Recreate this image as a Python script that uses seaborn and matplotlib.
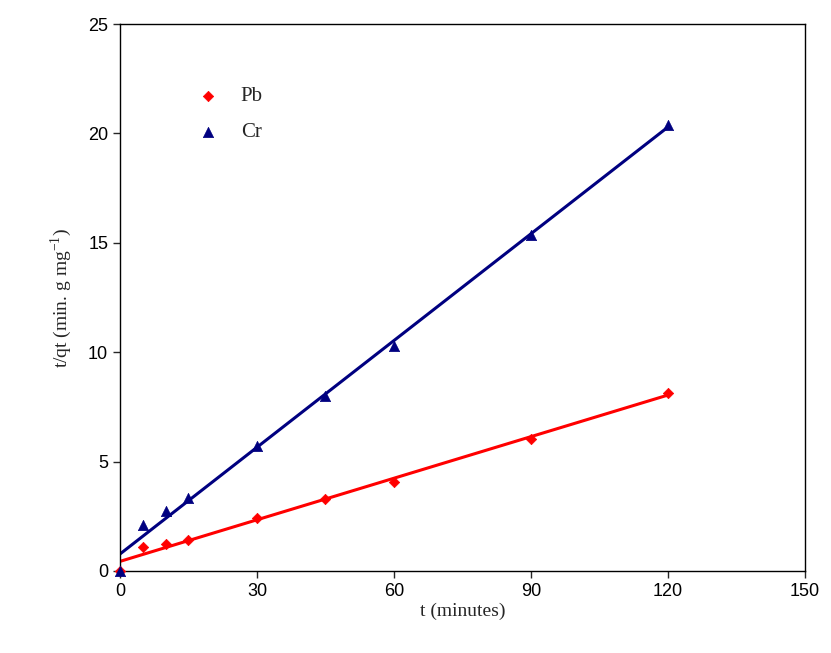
import numpy as np
import pandas as pd
import matplotlib
matplotlib.use("Agg")
import matplotlib.pyplot as plt
import seaborn as sns

# ─── Data ─────────────────────────────────────────────────────────────────────
t_min = [0, 5, 10, 15, 30, 45, 60, 90, 120]
pb_tqt = [0.0, 1.1, 1.25, 1.4, 2.4, 3.3, 4.05, 6.05, 8.15]
cr_tqt = [0.0, 2.1, 2.75, 3.35, 5.7, 8.0, 10.3, 15.35, 20.4]

sns.set_style("white")
plt.rcParams["font.family"] = ["Liberation Serif", "DejaVu Serif"]

df = pd.DataFrame({
    "t": t_min * 2,
    "tqt": pb_tqt + cr_tqt,
    "metal": ["Pb"] * len(t_min) + ["Cr"] * len(t_min),
})

fig = plt.figure(figsize=(8.31, 6.53), dpi=100)
ax = fig.add_axes([0.1444, 0.1256, 0.824, 0.8376])

palette = {"Pb": "#ff0000", "Cr": "#000080"}
markers = {"Pb": "D", "Cr": "^"}
sizes = {"Pb": 28, "Cr": 55}

# fitted lines
for metal in ["Pb", "Cr"]:
    sub = df[df.metal == metal]
    k, b = np.polyfit(sub.t, sub.tqt, 1)
    xs = np.array([0, 120])
    ax.plot(xs, k * xs + b, color=palette[metal], lw=2.2, zorder=2)

for metal in ["Pb", "Cr"]:
    sub = df[df.metal == metal]
    sns.scatterplot(data=sub, x="t", y="tqt", ax=ax, color=palette[metal],
                    marker=markers[metal], s=sizes[metal], edgecolor=palette[metal],
                    linewidth=0.5, zorder=3, label=metal, clip_on=False)

ax.set_xlim(0, 150)
ax.set_ylim(0, 25)
ax.set_xticks([0, 30, 60, 90, 120, 150])
ax.set_yticks([0, 5, 10, 15, 20, 25])
for lbl in ax.get_xticklabels() + ax.get_yticklabels():
    lbl.set_family("Liberation Sans")
    lbl.set_fontsize(13)
    lbl.set_color("black")
ax.tick_params(direction="out", length=5, width=1, left=True, bottom=True)
ax.set_xlabel("t (minutes)", fontsize=14, labelpad=2)
ax.set_ylabel("t/qt (min. g mg$^{\\mathregular{-1}}$)", fontsize=14, labelpad=10)
for s in ax.spines.values():
    s.set_color("black")
    s.set_linewidth(1)

ax.legend(loc="upper left", bbox_to_anchor=(0.07, 0.92), frameon=False,
          fontsize=15, handletextpad=0.6, labelspacing=0.8)

fig.savefig("out.png", dpi=100)
